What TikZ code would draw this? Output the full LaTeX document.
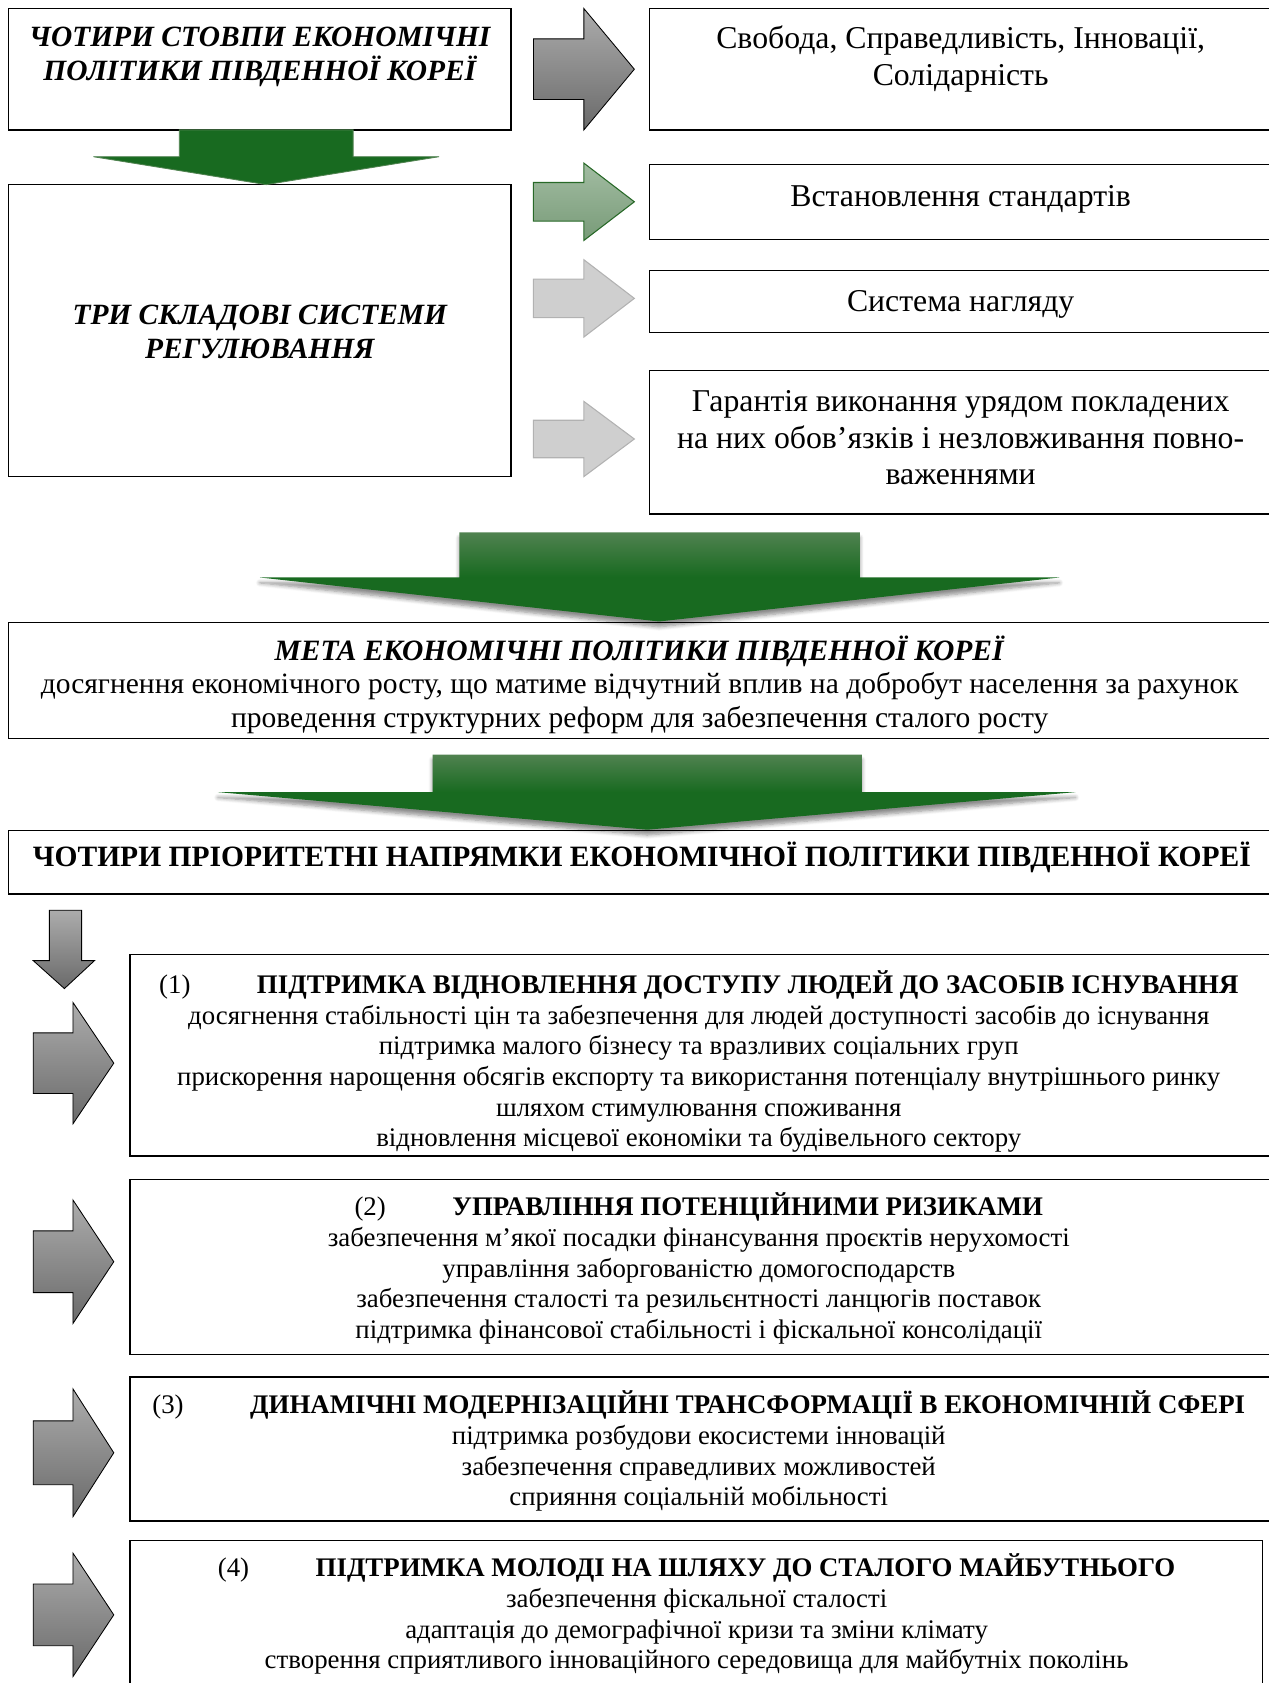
\documentclass[tikz,border=0pt]{standalone}
\usepackage{fontspec}
\setmainfont{Liberation Serif}
\usetikzlibrary{fit,shadows.blur}

\definecolor{gdark}{RGB}{24,106,32}
\definecolor{gtop}{RGB}{80,130,80}
\definecolor{glight}{RGB}{162,188,162}
\definecolor{glightbot}{RGB}{120,155,120}
\definecolor{gline}{RGB}{40,105,40}
\definecolor{grtop}{RGB}{172,172,172}
\definecolor{grbot}{RGB}{106,106,106}
\definecolor{ltgray}{RGB}{207,207,207}
\definecolor{ltline}{RGB}{178,178,178}

\tikzset{
  box/.style={draw=black, line width=0.6pt, inner sep=0pt},
  capt/.style={font=\fontsize{13.7}{16}\selectfont\bfseries\itshape, align=center},
  rtxt/.style={font=\fontsize{14.8}{17}\selectfont, align=center},
  gtxt/.style={font=\fontsize{13.75}{15.5}\selectfont, align=center},
  itxt/.style={font=\fontsize{12.5}{14.3}\selectfont, align=center},
  darkarr/.style={draw=black, line width=0.4pt, top color=grtop, bottom color=grbot},
  greenarr/.style={draw=gline, line width=0.5pt, top color=glight, bottom color=glightbot},
  lightarr/.style={draw=ltline, line width=0.5pt, fill=ltgray},
  bigarr/.style={top color=gtop, bottom color=gdark, middle color=gdark,
    blur shadow={shadow xshift=0pt, shadow yshift=-2.5pt, shadow blur steps=6, shadow opacity=45}}
}

\begin{document}
\begin{tikzpicture}[x=0.5pt, y=-0.5pt]
\useasboundingbox (0,0) rectangle (1182,1568);

% the boxes
\node[box, fit={(8,8) (476,121)}] (pillars) {};
\node[box, fit={(8,172) (476,444)}] (regul) {};
\node[box, fit={(605,8) (1185,121)}] (values) {};
\node[box, fit={(605,153) (1185,223)}] (stand) {};
\node[box, fit={(605,252) (1185,310)}] (superv) {};
\node[box, fit={(605,345) (1185,479)}] (guar) {};
\node[box, fit={(8,580) (1185,688)}] (goal) {};
\node[box, fit={(8,774) (1185,833)}] (prior) {};
\node[box, fit={(121,889) (1184,1077)}] (dirA) {};
\node[box, fit={(121,1099) (1184,1262)}] (dirB) {};
\node[box, fit={(121,1283) (1184,1417)}] (dirC) {};
\node[box, fit={(121,1435) (1176,1600)}] (dirD) {};

% the texts
\node[capt] (pillarsT) at (242,53) {ЧОТИРИ СТОВПИ ЕКОНОМІЧНІ\\ПОЛІТИКИ ПІВДЕННОЇ КОРЕЇ};
\node[capt] (regulT) at (242,309) {ТРИ СКЛАДОВІ СИСТЕМИ\\РЕГУЛЮВАННЯ};
\node[rtxt] (valuesT) at (895,55) {Свобода, Справедливість, Інновації,\\Солідарність};
\node[rtxt] (standT) at (895,186) {Встановлення стандартів};
\node[rtxt] (supervT) at (895,284) {Система нагляду};
\node[rtxt] (guarT) at (895,408) {Гарантія виконання урядом покладених\\на них обов’язків і незловживання повно-\\важеннями};
\node[gtxt] (goalT) at (596,638) {\textbf{\textit{МЕТА ЕКОНОМІЧНІ ПОЛІТИКИ ПІВДЕННОЇ КОРЕЇ}}\\
  досягнення економічного росту, що матиме відчутний вплив на добробут населення за рахунок\\
  проведення структурних реформ для забезпечення сталого росту};
\node[gtxt] (priorT) at (598,799) {\textbf{ЧОТИРИ ПРІОРИТЕТНІ НАПРЯМКИ ЕКОНОМІЧНОЇ ПОЛІТИКИ ПІВДЕННОЇ КОРЕЇ}};
\node[itxt] (dirAT) at (651,989) {(1)\hspace{31pt}\textbf{ПІДТРИМКА ВІДНОВЛЕННЯ ДОСТУПУ ЛЮДЕЙ ДО ЗАСОБІВ ІСНУВАННЯ}\\
  досягнення стабільності цін та забезпечення для людей доступності засобів до існування\\
  підтримка малого бізнесу та вразливих соціальних груп\\
  прискорення нарощення обсягів експорту та використання потенціалу внутрішнього ринку\\
  шляхом стимулювання споживання\\
  відновлення місцевої економіки та будівельного сектору};
\node[itxt] (dirBT) at (651,1182) {(2)\hspace{31pt}\textbf{УПРАВЛІННЯ ПОТЕНЦІЙНИМИ РИЗИКАМИ}\\
  забезпечення м’якої посадки фінансування проєктів нерухомості\\
  управління заборгованістю домогосподарств\\
  забезпечення сталості та резильєнтності ланцюгів поставок\\
  підтримка фінансової стабільності і фіскальної консолідації};
\node[itxt] (dirCT) at (651,1352) {(3)\hspace{31pt}\textbf{ДИНАМІЧНІ МОДЕРНІЗАЦІЙНІ ТРАНСФОРМАЦІЇ В ЕКОНОМІЧНІЙ СФЕРІ}\\
  підтримка розбудови екосистеми інновацій\\
  забезпечення справедливих можливостей\\
  сприяння соціальній мобільності};
\node[itxt] (dirDT) at (649,1504) {(4)\hspace{31pt}\textbf{ПІДТРИМКА МОЛОДІ НА ШЛЯХУ ДО СТАЛОГО МАЙБУТНЬОГО}\\
  забезпечення фіскальної сталості\\
  адаптація до демографічної кризи та зміни клімату\\
  створення сприятливого інноваційного середовища для майбутніх поколінь};

% the arrows to the right boxes
\foreach \y/\h/\s in {8/113/darkarr, 152/72/greenarr, 242/72/lightarr, 374/70/lightarr}
  \draw[\s] (497,\y+0.25*\h) -- (544,\y+0.25*\h) -- (544,\y) -- (591,\y+0.5*\h)
    -- (544,\y+\h) -- (544,\y+0.75*\h) -- (497,\y+0.75*\h) -- cycle;

% the green arrow under the first box
\draw[fill=gdark, draw=gtop, line width=0.4pt] (167,121) -- (329,121) -- (329,146) -- (409,146)
  -- (248,172) -- (87,146) -- (167,146) -- cycle;

% the big green arrows
\path[bigarr] (428,496) -- (801,496) -- (801,538) -- (987,538) -- (614,579)
  -- (242,538) -- (428,538) -- cycle;
\path[bigarr] (403,703) -- (803,703) -- (803,738) -- (1002,738) -- (603,773)
  -- (203,738) -- (403,738) -- cycle;

% the small arrow down and the arrows to the directions
\draw[darkarr] (46,848) -- (76,848) -- (76,895) -- (88,895) -- (60,921) -- (31,895) -- (46,895) -- cycle;
\foreach \y/\h in {934/113, 1118/115, 1294/119, 1447/115}
  \draw[darkarr] (31,\y+0.25*\h) -- (68,\y+0.25*\h) -- (68,\y) -- (106,\y+0.5*\h)
    -- (68,\y+\h) -- (68,\y+0.75*\h) -- (31,\y+0.75*\h) -- cycle;
\end{tikzpicture}
\end{document}
